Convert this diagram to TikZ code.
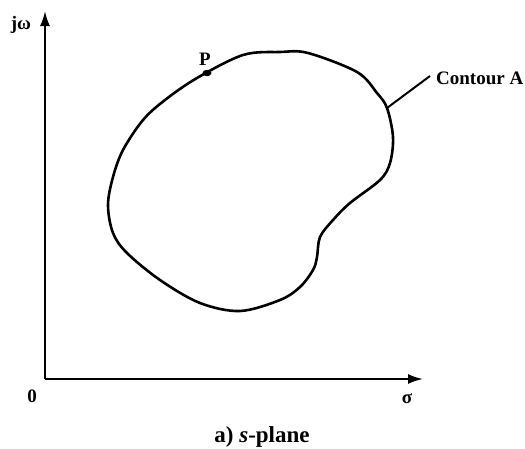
\documentclass[tikz,border=0pt]{standalone}
\usepackage{fontspec}
\setmainfont{Liberation Serif}
\usetikzlibrary{arrows.meta}
\begin{document}
\begin{tikzpicture}[x=1pt,y=-1pt,
  axis/.style={line width=2pt,-{Latex[length=15pt,width=10pt]}},
  curve/.style={line width=2.6pt},
  lbl/.style={font=\fontsize{19}{22}\selectfont\bfseries,inner sep=0pt}]
\useasboundingbox (0,0) rectangle (525,448);
\coordinate (O) at (45,379);
\coordinate (Ytip) at (45,11);
\coordinate (Xtip) at (423,379);
\draw[axis] (O) -- (Ytip);
\draw[axis] (O) -- (Xtip);
\draw[curve] plot[smooth cycle, tension=0.55] coordinates {
 (165,100) (197,78) (243,55) (280,52) (308,53) (357,72) (377,93) (387,108)
 (393,137) (390,163) (380,180) (350,203) (333,220) (320,237) (317,257)
 (313,270) (300,287) (280,300) (240,311) (200,303) (160,280) (127,253)
 (113,233) (108,205) (113,177) (123,150) (143,120)};
\coordinate (cA) at (387,108);
\fill (207,73) ellipse (4.5 and 3.2);
\node[lbl] (P) at (205,59) {P};
\node[lbl,anchor=west] (contA) at (436,78) {Contour A};
\draw[line width=2pt] (cA) -- ([xshift=-6pt,yshift=2pt]contA.west);
\node[lbl] (jw) at (21,25) {jω};
\node[lbl] (zero) at (32,396) {0};
\node[lbl] (sigma) at (407,399) {σ};
\node[font=\fontsize{23}{26}\selectfont\bfseries,inner sep=0pt] (cap) at (262,437) {a) \textit{s}-plane};
\end{tikzpicture}
\end{document}
